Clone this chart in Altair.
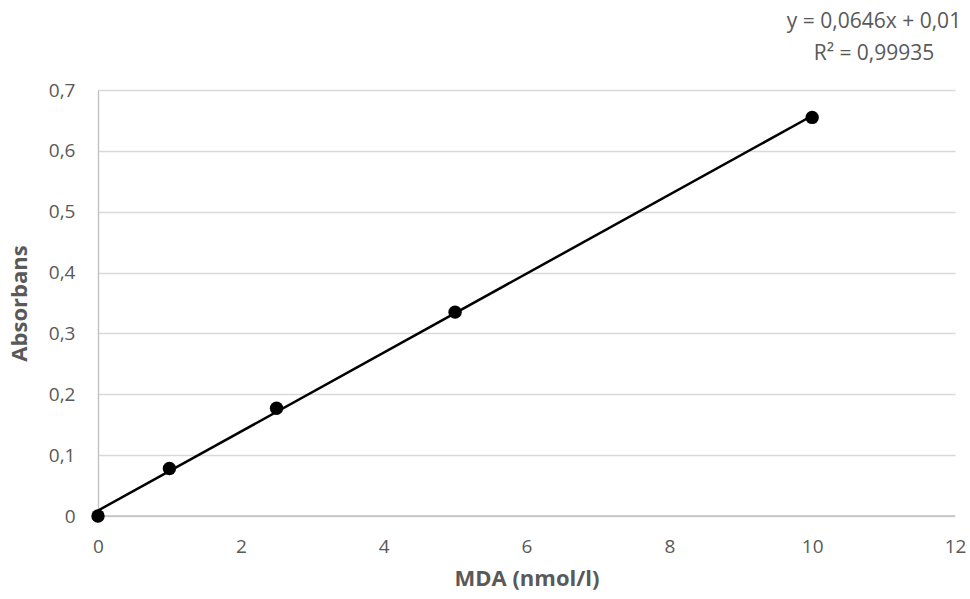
import altair as alt
import pandas as pd

# Data
mda = [0, 1, 2.5, 5, 10]
absorbans = [0.0, 0.078, 0.177, 0.335, 0.655]
equation_line1 = "y = 0,0646x + 0,01"
equation_line2 = "R² = 0,99935"

df = pd.DataFrame({"MDA": mda, "Abs": absorbans})

FONT = "Open Sans"
GREY = "#595959"

x_scale = alt.Scale(domain=[0, 12], nice=False, zero=True)
y_scale = alt.Scale(domain=[0, 0.7], nice=False, zero=True)

label_expr = "replace(format(datum.value, '~g'), '.', ',')"

x_axis = alt.Axis(
    title="MDA (nmol/l)", values=[0, 2, 4, 6, 8, 10, 12], grid=False,
    ticks=False, domain=False, labelExpr=label_expr, labelPadding=21,
    labelFontSize=19, labelColor=GREY, labelFont=FONT, labelFlush=False,
    titleFontSize=22, titleFontWeight="bold", titleColor=GREY, titleFont=FONT,
    titlePadding=12,
)
y_axis = alt.Axis(
    title="Absorbans", values=[0, 0.1, 0.2, 0.3, 0.4, 0.5, 0.6, 0.7],
    grid=True, gridColor="#d9d9d9", gridWidth=1.3, ticks=False,
    domain=True, domainColor="#bfbfbf", domainWidth=1.3,
    labelExpr=label_expr, labelPadding=23, labelFontSize=19,
    labelColor=GREY, labelFont=FONT,
    titleFontSize=22, titleFontWeight="bold", titleColor=GREY, titleFont=FONT,
    titlePadding=17,
)

base = alt.Chart(df)

# x-axis baseline (gray)
baseline = alt.Chart(pd.DataFrame({"y": [0]})).mark_rule(
    color="#bfbfbf", strokeWidth=1.3
).encode(y=alt.Y("y:Q", scale=y_scale, axis=y_axis))

trend = base.transform_regression(
    "MDA", "Abs", method="linear", extent=[0, 10]
).mark_line(color="black", strokeWidth=2.5).encode(
    x=alt.X("MDA:Q", scale=x_scale, axis=x_axis),
    y=alt.Y("Abs:Q", scale=y_scale, axis=y_axis),
)

points = base.mark_circle(color="black", opacity=1, size=180).encode(
    x=alt.X("MDA:Q", scale=x_scale, axis=x_axis),
    y=alt.Y("Abs:Q", scale=y_scale, axis=y_axis),
)

eq1 = alt.Chart(pd.DataFrame({"t": [equation_line1]})).mark_text(
    font=FONT, fontSize=21, color=GREY, align="center", baseline="middle"
).encode(text="t:N", x=alt.value(776), y=alt.value(-68))

eq2 = alt.Chart(pd.DataFrame({"t": [equation_line2]})).mark_text(
    font=FONT, fontSize=21, color=GREY, align="center", baseline="middle"
).encode(text="t:N", x=alt.value(776), y=alt.value(-36))

chart = alt.layer(baseline, trend, points, eq1, eq2).properties(
    width=857, height=426,
    autosize=alt.AutoSizeParams(type="none"),
    padding={"left": 98, "top": 90, "right": 15, "bottom": 83},
).configure_view(stroke=None)

chart.save("out.html", embed_options={"renderer": "svg", "actions": False})
